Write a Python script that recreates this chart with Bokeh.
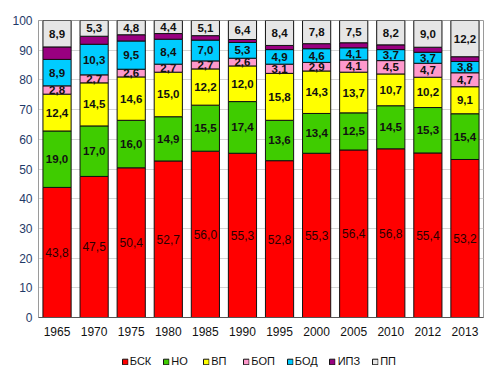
from bokeh.plotting import figure
from bokeh.layouts import column
from bokeh.models import ColumnDataSource, FactorRange, Range1d, Legend, LegendItem, FixedTicker
from bokeh.core.properties import value
from bokeh.embed import file_html
from bokeh.resources import INLINE
import numpy as np

years = ["1965", "1970", "1975", "1980", "1985", "1990", "1995", "2000", "2005", "2010", "2012", "2013"]
bsk = [43.8, 47.5, 50.4, 52.7, 56.0, 55.3, 52.8, 55.3, 56.4, 56.8, 55.4, 53.2]
no = [19.0, 17.0, 16.0, 14.9, 15.5, 17.4, 13.6, 13.4, 12.5, 14.5, 15.3, 15.4]
vp = [12.4, 14.5, 14.6, 15.0, 12.2, 12.0, 15.8, 14.3, 13.7, 10.7, 10.2, 9.1]
bop = [2.8, 2.7, 2.6, 2.7, 2.7, 2.6, 3.1, 2.9, 4.1, 4.5, 4.7, 4.7]
bod = [8.9, 10.3, 9.5, 8.4, 7.0, 5.3, 4.9, 4.6, 4.1, 3.7, 3.7, 3.8]
ipz = [4.2, 2.7, 2.1, 1.9, 1.5, 1.0, 1.4, 1.7, 1.7, 1.6, 1.7, 1.6]
pp = [8.9, 5.3, 4.8, 4.4, 5.1, 6.4, 8.4, 7.8, 7.5, 8.2, 9.0, 12.2]

series_names = ["БСК", "НО", "ВП", "БОП", "БОД", "ИПЗ", "ПП"]
series_values = [bsk, no, vp, bop, bod, ipz, pp]
colors = ["#FF0000", "#3FCC00", "#FFFF00", "#FF99CC", "#00CCFF", "#990080", "#E6E6E6"]
labelled = [True, True, True, True, True, False, True]
y_ticks = [0, 10, 20, 30, 40, 50, 60, 70, 80, 90, 100]

keys = ["s%d" % i for i in range(len(series_names))]
data = {"years": years}
for k, v in zip(keys, series_values):
    data[k] = v
source = ColumnDataSource(data)

p = figure(x_range=FactorRange(*years, range_padding=0), y_range=Range1d(0, 100),
           width=488, height=338, output_backend="svg", toolbar_location=None,
           min_border_left=38, min_border_right=5, min_border_top=20, min_border_bottom=0)

p.vbar_stack(keys, x="years", width=0.76, source=source, color=colors,
             line_color="#111111", line_width=1)

font = value("Liberation Sans")
cum = np.zeros(len(years))
for i, vals in enumerate(series_values):
    arr = np.array(vals)
    mids = cum + arr / 2
    cum = cum + arr
    if not labelled[i]:
        continue
    txt = [("%.1f" % v).replace(".", ",") for v in vals]
    ls = ColumnDataSource(dict(x=years, y=list(mids), t=txt))
    p.text(x="x", y="y", text="t", source=ls, text_align="center", text_baseline="middle",
           text_font=font, text_font_size="12px" if i == 0 else "11.5px",
           text_font_style="normal" if i == 0 else "bold",
           text_color="#2a0000" if i == 0 else "#111111")

p.xgrid.grid_line_color = None
p.ygrid.grid_line_color = "#D4D4D4"
p.ygrid.ticker = FixedTicker(ticks=y_ticks)
p.yaxis.ticker = FixedTicker(ticks=y_ticks)
p.outline_line_color = "#9a9a9a"
p.outline_line_width = 1

for ax in (p.xaxis, p.yaxis):
    ax.major_tick_line_color = None
    ax.minor_tick_line_color = None
    ax.major_tick_out = 0
    ax.major_label_text_font = "Liberation Sans"
    ax.major_label_text_font_size = "12px"
p.yaxis.axis_line_color = "#9a9a9a"
p.xaxis.axis_line_color = "#555555"
p.yaxis.major_label_text_color = "#1F3A68"
p.xaxis.major_label_text_color = "#111111"
p.xaxis.major_label_standoff = 9
p.yaxis.major_label_standoff = 6

# Legend strip underneath: the same stacked series, kept out of this strip's view,
# so that only their legend swatches show
lg = figure(width=488, height=30, output_backend="svg", toolbar_location=None,
            x_range=FactorRange(*years, range_padding=0), y_range=Range1d(200, 201),
            min_border_left=38, min_border_right=5, min_border_top=0, min_border_bottom=0)
lg.axis.visible = False
lg.grid.grid_line_color = None
lg.outline_line_color = None
swatches = lg.vbar_stack(keys, x="years", width=0.76, source=source, color=colors,
                         line_color="#111111", line_width=1)
items = [LegendItem(label=n, renderers=[r]) for n, r in zip(series_names, swatches)]
legend = Legend(items=items, orientation="horizontal", location="bottom_center",
                glyph_width=7, glyph_height=7, label_standoff=2, spacing=11,
                label_height=12, label_text_baseline="middle",
                label_text_font="Liberation Sans", label_text_font_size="11px",
                label_text_color="#111111", border_line_color=None,
                background_fill_alpha=0, padding=0, margin=1)
lg.add_layout(legend)

layout = column(p, lg, spacing=0)
open("out.html", "w").write(file_html(layout, INLINE))
